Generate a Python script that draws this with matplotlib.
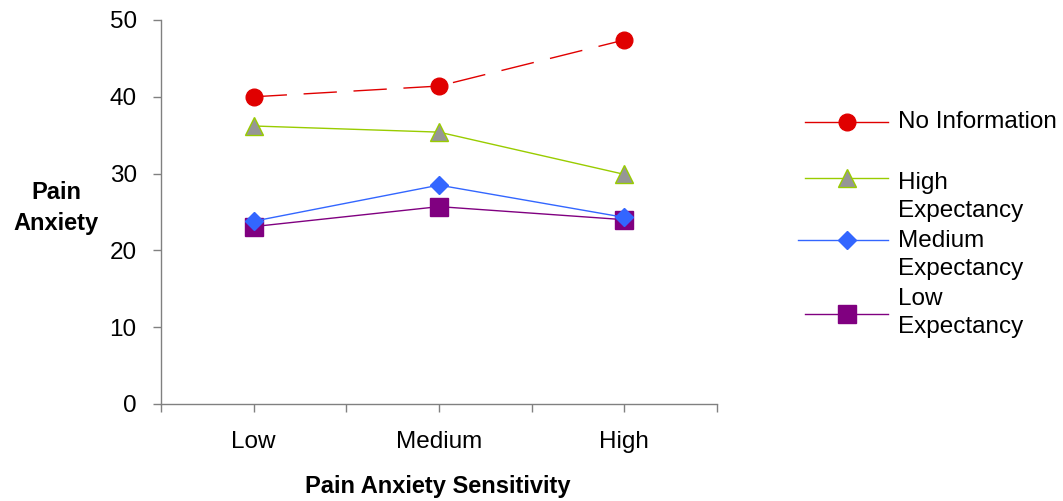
import matplotlib
matplotlib.use("Agg")
import matplotlib.pyplot as plt
from matplotlib.lines import Line2D

plt.rcParams['font.family'] = ['Liberation Sans', 'DejaVu Sans']
plt.rcParams['lines.scale_dashes'] = False

categories = ["Low", "Medium", "High"]
series_names = ["No Information", "High\nExpectancy", "Medium\nExpectancy", "Low\nExpectancy"]
no_info = [40.0, 41.4, 47.4]
high_exp = [36.2, 35.4, 29.9]
medium_exp = [23.8, 28.5, 24.3]
low_exp = [23.1, 25.7, 24.0]
yticks = [0, 10, 20, 30, 40, 50]

FS = 17.5
FSB = 17

W, H = 1063, 501
fig = plt.figure(figsize=(W / 100, H / 100), dpi=100)
ax = fig.add_axes([161 / W, 1 - 404 / H, (717 - 161) / W, (404 - 20) / H])

x = list(range(len(categories)))
styles = [
    dict(color="#E00000", marker="o", ms=12, mfc="#E00000", mec="#E00000", ls=(0, (24, 12)), lw=1.0, z=3),
    dict(color="#99CC00", marker="^", ms=13, mfc="#969696", mec="#99CC00", ls="-", lw=1.0, z=3),
    dict(color="#3366FF", marker="D", ms=9, mfc="#3366FF", mec="#3366FF", ls="-", lw=1.0, z=4),
    dict(color="#800080", marker="s", ms=13, mfc="#800080", mec="#800080", ls="-", lw=1.0, z=3),
]
data = [no_info, high_exp, medium_exp, low_exp]
for vals, st in zip(data, styles):
    ax.plot(x, vals, color=st["color"], marker=st["marker"], ms=st["ms"], mfc=st["mfc"],
            mec=st["mec"], ls=st["ls"], lw=st["lw"], clip_on=False, zorder=st["z"])

ax.set_xlim(-0.5, 2.5)
ax.set_ylim(0, 50)
ax.set_yticks(yticks)
ax.set_xticks([-0.5, 0, 0.5, 1, 1.5, 2, 2.5])
ax.set_xticklabels([])
for xi, c in zip(x, categories):
    ax.text(xi, -0.1, c, transform=ax.get_xaxis_transform(), ha="center", va="center", fontsize=FS)
for s in ["top", "right"]:
    ax.spines[s].set_visible(False)
for s in ["left", "bottom"]:
    ax.spines[s].set_color("#808080")
    ax.spines[s].set_linewidth(1.0)
ax.tick_params(axis="both", direction="out", length=5.5, color="#808080", width=1.0, labelsize=FS)
ax.tick_params(axis="y", pad=12)

fig.text(438 / W, 1 - 486 / H, "Pain Anxiety Sensitivity", ha="center", va="center",
         fontsize=FSB, fontweight="bold")
fig.text(56 / W, 1 - 208 / H, "Pain\nAnxiety", ha="center", va="center",
         fontsize=FSB, fontweight="bold", linespacing=1.42)

# legend (manual)
leg_y = [122, 178, 240, 314]
leg_x0 = [805, 805, 798, 805]
text_y = [122, 197, 255, 313]
for st, name, yy, x0, ty in zip(styles, series_names, leg_y, leg_x0, text_y):
    fy = 1 - yy / H
    fig.add_artist(Line2D([x0 / W, 888 / W], [fy, fy], transform=fig.transFigure,
                          color=st["color"], lw=1.0))
    fig.add_artist(Line2D([847 / W], [fy], transform=fig.transFigure, marker=st["marker"],
                          ms=st["ms"], mfc=st["mfc"], mec=st["mec"], ls="none"))
    fig.text(898 / W, 1 - ty / H, name, ha="left", va="center", fontsize=FS, linespacing=1.33)

fig.savefig("out.png", dpi=100)
